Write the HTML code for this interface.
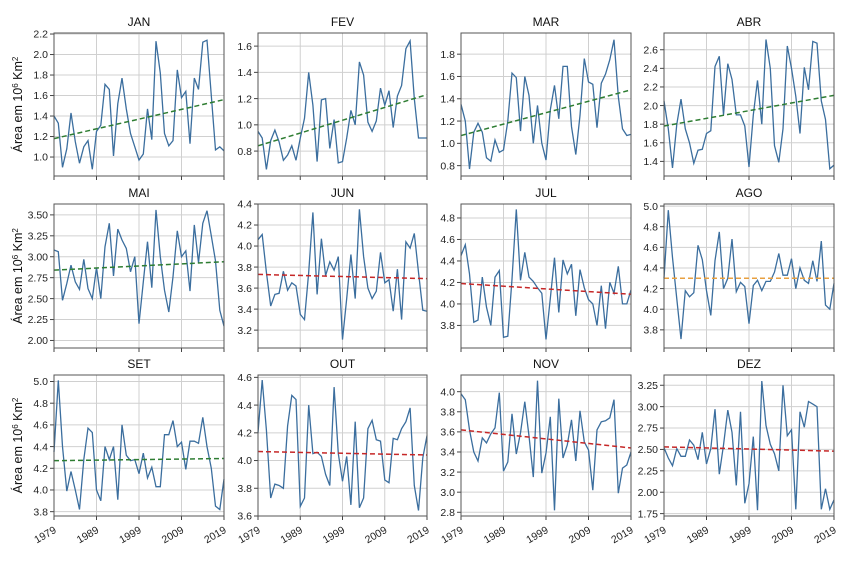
<!DOCTYPE html>
<html><head><meta charset="utf-8"><style>
body{margin:0;background:#fff;}
svg{display:block;font-family:"Liberation Sans","DejaVu Sans",sans-serif;}
</style></head><body>
<svg id="chart" width="850" height="564" viewBox="0 0 850 564"></svg>
<script>
const years = [1979,1980,1981,1982,1983,1984,1985,1986,1987,1988,1989,1990,1991,1992,1993,1994,1995,1996,1997,1998,1999,2000,2001,2002,2003,2004,2005,2006,2007,2008,2009,2010,2011,2012,2013,2014,2015,2016,2017,2018,2019];
const xTicks = [1979,1989,1999,2009,2019];
const monthNames = ["JAN","FEV","MAR","ABR","MAI","JUN","JUL","AGO","SET","OUT","NOV","DEZ"];
const janValues = [1.40,1.33,0.90,1.08,1.43,1.15,0.94,1.10,1.16,0.88,1.25,1.31,1.71,1.66,1.01,1.52,1.77,1.47,1.23,1.10,0.97,1.03,1.47,1.17,2.13,1.82,1.23,1.11,1.16,1.85,1.58,1.64,1.13,1.77,1.66,2.12,2.14,1.60,1.07,1.10,1.06];
const fevValues = [0.95,0.90,0.66,0.88,0.96,0.87,0.73,0.77,0.84,0.73,0.90,1.05,1.40,1.15,0.72,1.19,1.20,0.82,1.04,0.71,0.72,0.90,1.11,1.00,1.48,1.38,1.02,0.95,1.03,1.28,1.15,1.26,0.98,1.22,1.30,1.58,1.64,1.20,0.90,0.90,0.90];
const marValues = [1.35,1.20,0.77,1.10,1.18,1.10,0.87,0.84,1.03,0.92,0.94,1.20,1.63,1.59,1.11,1.60,1.43,1.00,1.34,1.00,0.85,1.30,1.52,1.22,1.69,1.69,1.15,0.90,1.25,1.76,1.55,1.53,1.14,1.54,1.62,1.75,1.93,1.42,1.13,1.07,1.08];
const abrValues = [2.05,1.75,1.33,1.80,2.07,1.75,1.60,1.38,1.52,1.53,1.70,1.73,2.42,2.53,1.90,2.45,2.28,1.90,1.90,1.78,1.34,1.90,2.27,1.80,2.71,2.40,1.57,1.39,1.75,2.64,2.40,2.10,1.70,2.41,2.17,2.69,2.67,2.05,1.85,1.32,1.36];
const maiValues = [3.08,3.06,2.48,2.68,2.90,2.70,2.61,2.97,2.62,2.50,2.87,2.50,3.12,3.40,2.77,3.33,3.20,3.10,2.82,3.00,2.20,2.70,3.18,2.63,3.56,3.00,2.60,2.34,2.76,3.31,3.00,3.07,2.59,3.38,2.93,3.40,3.55,3.25,2.95,2.36,2.17];
const junValues = [4.06,4.11,3.75,3.43,3.54,3.55,3.76,3.58,3.65,3.62,3.35,3.30,3.75,4.32,3.54,4.07,3.72,3.85,3.77,3.90,3.11,3.50,3.92,3.50,4.35,3.90,3.60,3.50,3.57,3.94,3.65,3.68,3.38,3.78,3.30,4.04,3.98,4.12,3.75,3.39,3.38];
const julValues = [4.45,4.55,4.28,3.83,3.85,4.25,3.97,3.80,4.25,4.31,3.69,3.70,4.23,4.88,4.22,4.48,4.25,4.21,4.15,4.10,3.67,4.05,4.43,3.92,4.41,4.28,4.37,3.89,4.32,4.15,4.04,4.00,3.80,4.17,3.77,4.20,4.10,4.35,4.00,4.00,4.13];
const agoValues = [4.30,4.96,4.50,4.10,3.71,4.18,4.12,4.16,4.62,4.48,4.18,3.94,4.47,4.75,4.20,4.30,4.68,4.17,4.26,4.22,3.86,4.23,4.28,4.18,4.27,4.27,4.36,4.54,4.33,4.33,4.49,4.20,4.40,4.28,4.25,4.47,4.27,4.66,4.04,4.00,4.25];
const setValues = [4.35,5.01,4.40,3.99,4.17,4.00,3.82,4.28,4.57,4.53,4.00,3.90,4.40,4.28,4.40,3.91,4.60,4.32,4.27,4.28,4.15,4.34,4.11,4.21,4.03,4.03,4.51,4.51,4.64,4.40,4.44,4.19,4.45,4.45,4.43,4.67,4.40,4.20,3.85,3.82,4.10];
const outValues = [4.20,4.58,4.22,3.73,3.83,3.82,3.80,4.25,4.47,4.44,3.67,3.73,4.40,4.05,4.06,4.03,3.90,3.82,4.53,4.05,3.85,4.03,3.68,4.28,3.66,3.73,4.23,4.29,4.15,4.14,3.86,3.84,4.16,4.15,4.23,4.28,4.38,3.82,3.64,4.02,4.18];
const novValues = [3.98,3.92,3.62,3.40,3.31,3.54,3.49,3.58,3.64,3.99,3.21,3.30,3.78,3.38,3.59,3.90,3.56,3.15,4.11,3.19,3.39,3.75,2.82,3.93,3.34,3.47,3.72,3.31,3.81,3.50,3.42,3.02,3.62,3.70,3.71,3.74,3.92,2.99,3.24,3.27,3.40];
const dezValues = [2.52,2.40,2.31,2.51,2.42,2.42,2.61,2.55,2.38,2.70,2.33,2.51,2.97,2.21,2.55,2.96,2.70,2.08,2.94,1.87,2.10,2.65,1.79,3.30,2.78,2.56,2.45,2.25,3.25,2.66,2.73,1.80,2.94,2.76,3.06,3.03,3.00,1.80,2.04,1.80,1.91];
const trendStart = [1.18,0.84,1.07,1.78,2.84,3.73,4.19,4.30,4.27,4.065,3.62,2.53];
const trendEnd = [1.56,1.23,1.48,2.11,2.94,3.69,4.09,4.30,4.29,4.04,3.44,2.48];
const trendColors = ["#2e7d32","#2e7d32","#2e7d32","#2e7d32","#2e7d32","#c62828","#c62828","#e8a040","#2e7d32","#c62828","#c62828","#c62828"];
const yMin = [0.815,0.61,0.707,1.243,1.91,3.03,3.59,3.624,3.76,3.60,2.763,1.722];
const yMax = [2.21,1.70,1.99,2.78,3.63,4.40,4.93,5.02,5.06,4.617,4.166,3.37];
const yTicks = [
 ["1.0","1.2","1.4","1.6","1.8","2.0","2.2"],
 ["0.8","1.0","1.2","1.4","1.6"],
 ["0.8","1.0","1.2","1.4","1.6","1.8"],
 ["1.4","1.6","1.8","2.0","2.2","2.4","2.6"],
 ["2.00","2.25","2.50","2.75","3.00","3.25","3.50"],
 ["3.2","3.4","3.6","3.8","4.0","4.2","4.4"],
 ["3.8","4.0","4.2","4.4","4.6","4.8"],
 ["3.8","4.0","4.2","4.4","4.6","4.8","5.0"],
 ["3.8","4.0","4.2","4.4","4.6","4.8","5.0"],
 ["3.6","3.8","4.0","4.2","4.4","4.6"],
 ["2.8","3.0","3.2","3.4","3.6","3.8","4.0"],
 ["1.75","2.00","2.25","2.50","2.75","3.00","3.25"]
];
const allValues = [janValues,fevValues,marValues,abrValues,maiValues,junValues,julValues,agoValues,setValues,outValues,novValues,dezValues];

const NS="http://www.w3.org/2000/svg";
const svg=document.getElementById('chart');
const colX=[[54,224],[258,427],[461,631],[664,834]];
const rowY=[[33,176],[204,348],[375,516]];
function mk(tag,attrs,parent){const e=document.createElementNS(NS,tag);for(const k in attrs)e.setAttribute(k,attrs[k]);(parent||svg).appendChild(e);return e;}

for(let m=0;m<12;m++){
  const r=Math.floor(m/4),c=m%4;
  const [x0,x1]=colX[c],[y0,y1]=rowY[r];
  const xs=v=>x0+(v-years[0])/(years[years.length-1]-years[0])*(x1-x0);
  const ys=v=>y1-(v-yMin[m])/(yMax[m]-yMin[m])*(y1-y0);
  const g=mk('g',{});
  
  
  xTicks.forEach(t=>{
    const gl=mk('line',{x1:xs(t),x2:xs(t),y1:y0,y2:y1,stroke:'#d0d0d0','stroke-width':1},g);
    
    
    mk('line',{x1:xs(t),x2:xs(t),y1:y1,y2:y1+4,stroke:'#444','stroke-width':1},g);
    if(r===2){
      const tx=mk('text',{x:xs(t)+3,y:y1+16,'font-size':10.5,fill:'#222','text-anchor':'end',transform:`rotate(-30 ${xs(t)+3} ${y1+16})`},g);
      tx.textContent=t;
      
      
    }
  });
  yTicks[m].forEach(t=>{
    const v=parseFloat(t),y=ys(v);
    const gl=mk('line',{x1:x0,x2:x1,y1:y,y2:y,stroke:'#d0d0d0','stroke-width':1},g);
    
    
    mk('line',{x1:x0-4,x2:x0,y1:y,y2:y,stroke:'#444','stroke-width':1},g);
    const tx=mk('text',{x:x0-6,y:y+3.7,'font-size':10.5,fill:'#222','text-anchor':'end'},g);
    tx.textContent=t;
    
    
  });
  const vals=allValues[m];
  const pts=vals.map((v,i)=>xs(years[i]).toFixed(1)+','+ys(v).toFixed(1)).join(' ');
  const pl=mk('polyline',{points:pts,fill:'none',stroke:'#3b6e9e','stroke-width':1.3},g);
  
  
  const tr=mk('line',{x1:x0,x2:x1,y1:ys(trendStart[m]),y2:ys(trendEnd[m]),stroke:trendColors[m],'stroke-width':1.5,'stroke-dasharray':'5,3'},g);
  
  
  const fr=mk('rect',{x:x0,y:y0,width:x1-x0,height:y1-y0,fill:'none',stroke:'#555','stroke-width':1},g);
  
  
  const ti=mk('text',{x:(x0+x1)/2,y:y0-7,'font-size':12,fill:'#111','text-anchor':'middle'},g);
  ti.textContent=monthNames[m];
  
  
  if(c===0){
    const cy=(y0+y1)/2;
    const yl=mk('text',{x:22,y:cy,'font-size':12.5,fill:'#111','text-anchor':'middle',transform:`rotate(-90 22 ${cy})`},g);
    yl.innerHTML='Área em 10<tspan baseline-shift="super" font-size="8">6</tspan> Km<tspan baseline-shift="super" font-size="8">2</tspan>';
    
    
  }
}
</script>
</body></html>
